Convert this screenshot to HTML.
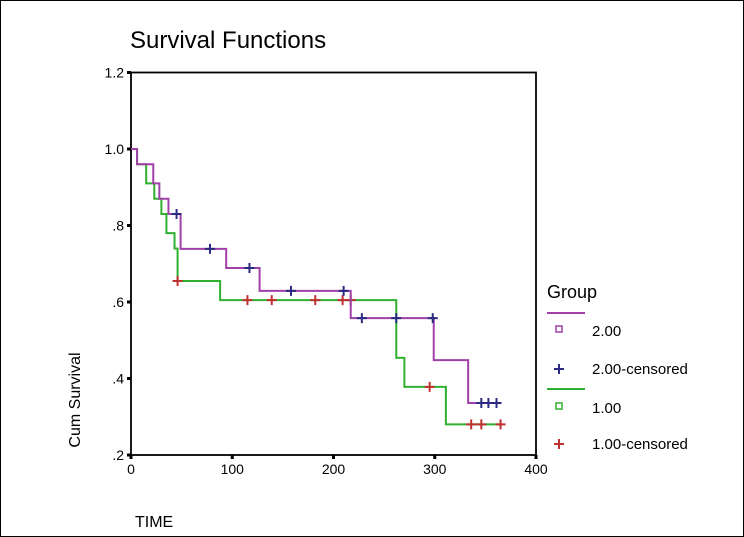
<!DOCTYPE html>
<html><head><meta charset="utf-8"><style>
html,body{margin:0;padding:0;background:#fff}
svg{display:block}
text{font-family:"Liberation Sans",Arial,sans-serif}
</style></head><body>
<svg id="chart" width="744" height="537" viewBox="0 0 744 537">
<rect x="0.5" y="0.5" width="743" height="536" fill="#fff" stroke="#000" stroke-width="1"/>
<text x="130" y="48" font-size="24">Survival Functions</text>
<rect x="131" y="72.5" width="405" height="382.5" fill="none" stroke="#000" stroke-width="1.8"/>
<g id="yticks"></g><g id="xticks"></g><g id="series"></g>
<text transform="translate(80,400) rotate(-90)" text-anchor="middle" font-size="16">Cum Survival</text>
<text x="135" y="527" font-size="16">TIME</text>
<g>
<text x="547" y="298" font-size="18">Group</text>
<line x1="547" y1="313" x2="585" y2="313" stroke="#a040a8" stroke-width="2"/>
<rect x="556" y="326" width="6" height="6" fill="none" stroke="#a040a8" stroke-width="1.5"/>
<text x="592" y="336" font-size="15">2.00</text>
<path d="M554,369 h10 M559,364 v10" stroke="#2a2a80" stroke-width="2"/>
<text x="592" y="374" font-size="15">2.00-censored</text>
<line x1="547" y1="389" x2="585" y2="389" stroke="#30b030" stroke-width="2"/>
<rect x="556" y="403" width="6" height="6" fill="none" stroke="#30b030" stroke-width="1.5"/>
<text x="592" y="413" font-size="15">1.00</text>
<path d="M554,444 h10 M559,439 v10" stroke="#c03030" stroke-width="2"/>
<text x="592" y="449" font-size="15">1.00-censored</text>
</g>
</svg>
<script>
const yTicks=[1.2,1.0,0.8,0.6,0.4,0.2];
const yTickLabels=["1.2","1.0",".8",".6",".4",".2"];
const xTicks=[0,100,200,300,400];
const xTickLabels=["0","100","200","300","400"];
// Group 2.00 step times and survival values
const g2Times=[0,6,22,28,37,49,94,127,217,299,333,362];
const g2Surv=[1.0,0.96,0.91,0.87,0.83,0.739,0.689,0.629,0.558,0.448,0.336,0.336];
const g2Censor=[45,78,117,158,210,228,262,298,346,353,361];
// Group 1.00
const g1Times=[0,6,15,23,30,35,43,46,88,262,270,311,365];
const g1Surv=[1.0,0.96,0.91,0.87,0.83,0.78,0.74,0.655,0.605,0.454,0.378,0.28,0.28];
const g1Censor=[46,115,139,182,209,217,295,336,346,365];

const X=t=>131+t*405/400;
const Y=v=>455-(v-0.2)*382.5;
const NS="http://www.w3.org/2000/svg";
function mk(tag,attrs,parent){const e=document.createElementNS(NS,tag);for(const k in attrs)e.setAttribute(k,attrs[k]);parent.appendChild(e);return e;}
const yg=document.getElementById('yticks'),xg=document.getElementById('xticks'),sg=document.getElementById('series');
yTicks.forEach((v,i)=>{
  const t=mk('text',{x:124,y:Y(v)+5,'text-anchor':'end','font-size':14},yg);
  
  
  t.textContent=yTickLabels[i];
  const r=mk('rect',{x:127,y:Y(v)-1.5,width:4,height:3,fill:'#000'},yg);
  
  
});
xTicks.forEach((v,i)=>{
  const t=mk('text',{x:X(v),y:474,'text-anchor':'middle','font-size':14},xg);
  
  
  t.textContent=xTickLabels[i];
  const r=mk('rect',{x:X(v)-1.5,y:455,width:3,height:4,fill:'#000'},xg);
  
  
});
function stepAt(times,surv,t){let v=surv[0];for(let i=0;i<times.length;i++){if(times[i]<=t)v=surv[i];}return v;}
function drawSeries(times,surv,cens,color,ccolor,name){
  let d='M'+X(times[0])+','+Y(surv[0]);
  for(let i=1;i<times.length;i++){d+=' H'+X(times[i])+' V'+Y(surv[i]);}
  const p=mk('path',{d:d,fill:'none',stroke:color,'stroke-width':2},sg);
  
  
  cens.forEach(t=>{
    const x=X(t),y=Y(stepAt(times,surv,t));
    const c=mk('path',{d:`M${x-5},${y} h10 M${x},${y-5} v10`,stroke:ccolor,'stroke-width':2},sg);
    
    
  });
}
drawSeries(g1Times,g1Surv,g1Censor,'#30b030','#c03030','group-1');
drawSeries(g2Times,g2Surv,g2Censor,'#a040a8','#2a2a80','group-2');
</script>
</body></html>
